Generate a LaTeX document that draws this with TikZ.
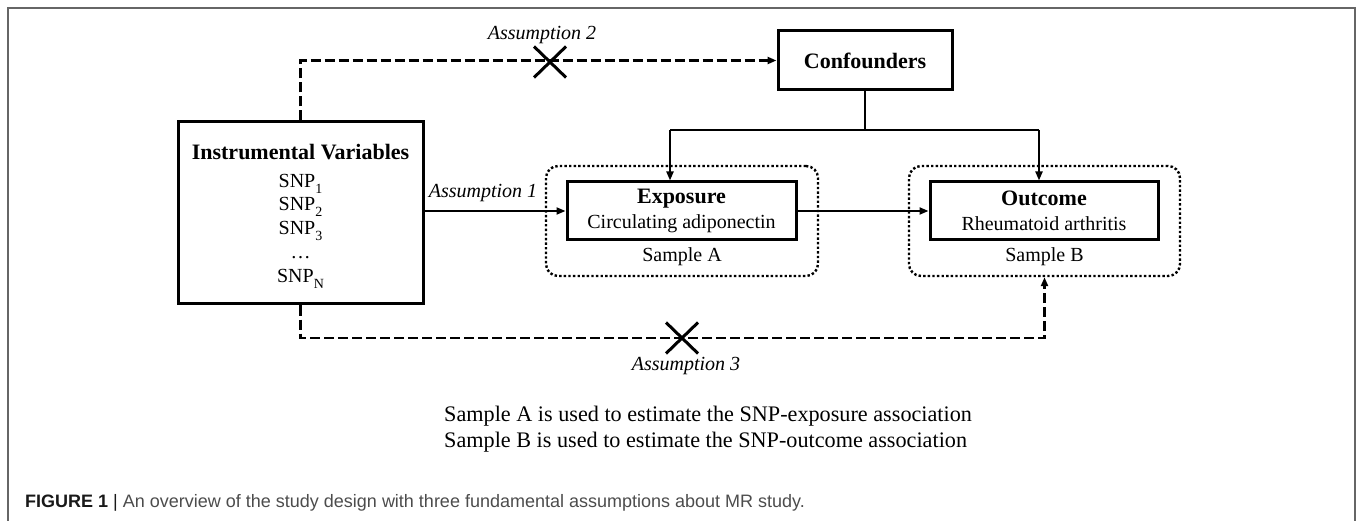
\documentclass[tikz,border=0pt]{standalone}
\usepackage{fontspec}
\setmainfont{Liberation Serif}
\newfontfamily\capfont{Liberation Sans}
\usetikzlibrary{arrows.meta,shapes.misc}
\newcommand\snpsub[1]{\raisebox{-0.3em}{\fontsize{14}{14}\selectfont #1}}
\begin{document}
\begin{tikzpicture}[x=1pt,y=-1pt,
  box/.style={draw,line width=3pt,rectangle,inner sep=0pt,align=center,font=\fontsize{20}{25}\selectfont},
  dotbox/.style={draw,line width=2.4pt,rounded corners=12pt,dash pattern=on 2.4pt off 2.2pt,inner sep=0pt},
  arr/.style={line width=2pt,-{Triangle[length=9pt,width=7pt]}},
  darr/.style={arr,line width=2.4pt,dash pattern=on 10pt off 4pt},
  lbl/.style={font=\fontsize{20}{24}\selectfont\itshape,inner sep=0pt},
  txt/.style={font=\fontsize{20}{24}\selectfont,inner sep=0pt},
  xmark/.style={cross out,draw,line width=3pt,minimum width=32pt,minimum height=31pt,inner sep=0pt,outer sep=0pt},
]
\useasboundingbox (0,0) rectangle (1357,521);
\draw[line width=1.5pt,color=black!60] (8,521) -- (8,8) -- (1355,8) -- (1355,521);

% dotted sample boxes
\node[dotbox,minimum width=272pt,minimum height=110pt] (sa) at (682,221) {};
\node[dotbox,minimum width=271pt,minimum height=110pt] (sb) at (1044.5,221) {};
\node[txt] (la) at (682,257) {Sample A};
\node[txt] (lb) at (1044.5,257) {Sample B};

% main boxes
\node[box,minimum width=245pt,minimum height=182pt] (iv) at (300.5,213) {};
\node[inner sep=0pt,align=center,font=\fontsize{20}{23.75}\selectfont] (ivtxt) at (300.5,216)
  {{\fontsize{22}{25}\selectfont\bfseries Instrumental Variables}\\[4pt]
   SNP\snpsub{1}\\ SNP\snpsub{2}\\ SNP\snpsub{3}\\ \dots\\ SNP\snpsub{N}};
\node[box,minimum width=174pt,minimum height=59pt,font=\fontsize{22}{25}\selectfont\bfseries] (conf) at (865,60.5) {Confounders};
\node[box,minimum width=229pt,minimum height=58pt] (expo) at (681.5,211)
  {{\fontsize{22}{25}\selectfont\bfseries Exposure}\\ Circulating adiponectin};
\node[box,minimum width=228pt,minimum height=58pt] (outc) at (1044,211)
  {{\fontsize{22}{25}\selectfont\bfseries Outcome}\\ Rheumatoid arthritis};

% assumption 1 and causal arrow
\draw[arr] (iv.east |- expo.west) -- (expo.west);
\node[lbl] (a1) at (483,193) {Assumption 1};
\draw[arr] (expo.east) -- (outc.west);

% confounders branches
\coordinate (cj) at (865,130);
\coordinate (jl) at (670,130);
\coordinate (jr) at (1039,130);
\draw[line width=2pt] (conf.south) -- (cj);
\draw[line width=2pt] (jl) -- (jr);
\draw[arr] (jl) -- (jl |- expo.north);
\draw[arr] (jr) -- (jr |- outc.north);

% assumption 2
\draw[darr] (iv.north) |- (conf.west);
\node[xmark] (x2) at (550,62) {};
\node[lbl] (a2) at (542,35) {Assumption 2};

% assumption 3
\coordinate (dbl) at (0,338);
\draw[darr] (iv.south) -- (iv.south |- dbl) -| (sb.south);
\node[xmark] (x3) at (682,338) {};
\node[lbl] (a3) at (686,366) {Assumption 3};

% notes
\node[txt,anchor=west,font=\fontsize{22.2}{26}\selectfont] (t1) at (444,416) {Sample A is used to estimate the SNP-exposure association};
\node[txt,anchor=west,font=\fontsize{22.2}{26}\selectfont] (t2) at (444,442) {Sample B is used to estimate the SNP-outcome association};

% caption
\node[anchor=west,inner sep=0pt,font=\capfont\fontsize{18}{21}\selectfont,text=black!70] (cap) at (25,503)
  {{\color{black!90}\textbf{FIGURE 1} |} An overview of the study design with three fundamental assumptions about MR study.};
\end{tikzpicture}
\end{document}
